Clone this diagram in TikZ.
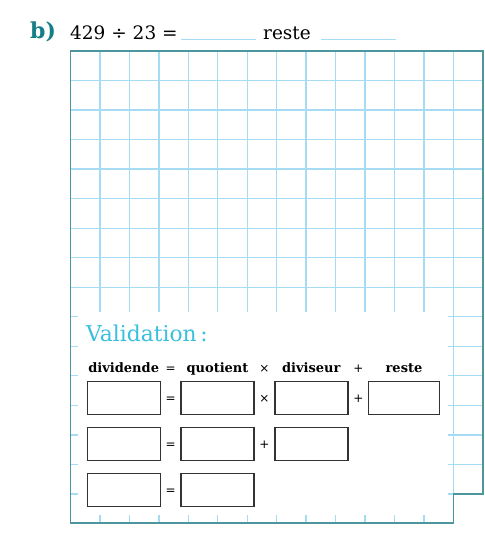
\documentclass[tikz,border=0pt]{standalone}
\usepackage{fontspec}
\setmainfont{DejaVu Serif}
\newfontfamily\opfont{DejaVu Sans}
\usetikzlibrary{positioning}
\definecolor{gridblue}{RGB}{165,220,244}
\definecolor{frameteal}{RGB}{78,150,158}
\definecolor{darkteal}{RGB}{22,126,134}
\definecolor{valcyan}{RGB}{58,192,222}
\tikzset{
  answerbox/.style={draw=black!80, line width=1.4pt, fill=white, minimum width=73pt, minimum height=33pt, inner sep=0pt},
  oplabel/.style={font=\opfont\fontsize{12}{12}\selectfont, inner sep=0pt, anchor=base},
  headlabel/.style={font=\bfseries\fontsize{13}{13}\selectfont, inner sep=0pt, anchor=base},
  gridline/.style={gridblue, line width=1.3pt}
}
\begin{document}
\begin{tikzpicture}[x=1pt,y=-1pt]
  \useasboundingbox (0,0) rectangle (485,542);
  % Title
  \node[anchor=base west, inner sep=0pt, text=darkteal, font=\bfseries\fontsize{22}{22}\selectfont] (part) at (30,38.5) {b)};
  \node[anchor=base west, inner sep=0pt, font=\fontsize{18.5}{18.5}\selectfont] (calc) at (70,39) {429 ÷ 23 =};
  \node[anchor=base west, inner sep=0pt, font=\fontsize{18.5}{18.5}\selectfont] (restword) at (263,39) {reste};
  \coordinate (quotA) at (181,39.5);
  \coordinate (quotB) at (256,39.5);
  \coordinate (restA) at (321,39.5);
  \coordinate (restB) at (396,39.5);
  \draw[gridblue, line width=1.1pt] (quotA) -- (quotB);
  \draw[gridblue, line width=1.1pt] (restA) -- (restB);
  %Grid
  \foreach \i in {1,...,12}
    \draw[gridline] (70.5+29.45*\i,51) -- (70.5+29.45*\i,523);
  \draw[gridline] (453.6,51) -- (453.6,494);
  \foreach \j in {1,...,15}
    \draw[gridline] (70.5,51+29.53*\j) -- (483,51+29.53*\j);
  %Validation panel
  \fill[white] (78,312) rectangle (448,515);
  %Frame
  \draw[frameteal, line width=1.3pt] (70.5,51) -- (483,51) -- (483,494) -- (453.6,494) -- (453.6,523) -- (70.5,523) -- cycle;
  \node[anchor=base west, inner sep=0pt, text=valcyan, font=\fontsize{21.8}{21.8}\selectfont] (valid) at (86,341) {Validation\,:};
  %Headers
  \node[headlabel] (hdiv) at (123.7,372.7) {dividende};
  \node[oplabel] (heq) at (170.7,372.7) {=};
  \node[headlabel] (hquot) at (217.5,372.7) {quotient};
  \node[oplabel] (htimes) at (264.3,372.7) {×};
  \node[headlabel] (hdvs) at (311.3,372.7) {diviseur};
  \node[oplabel] (hplus) at (358.3,372.7) {+};
  \node[headlabel] (hrest) at (404,372.7) {reste};
  %Row 1
  \node[answerbox] (a1) at (123.7,398) {};
  \node[oplabel] (e1) at (170.7,402.5) {=};
  \node[answerbox] (b1) at (217.5,398) {};
  \node[oplabel] (t1) at (264.3,402.5) {×};
  \node[answerbox] (c1) at (311.3,398) {};
  \node[oplabel] (p1) at (358.3,402.5) {+};
  \node[answerbox, minimum width=71pt] (d1) at (404,398) {};
  %Row 2
  \node[answerbox] (a2) at (123.7,444) {};
  \node[oplabel] (e2) at (170.7,448.5) {=};
  \node[answerbox] (b2) at (217.5,444) {};
  \node[oplabel] (p2) at (264.3,448.5) {+};
  \node[answerbox] (c2) at (311.3,444) {};
  %Row 3
  \node[answerbox] (a3) at (123.7,490) {};
  \node[oplabel] (e3) at (170.7,494.5) {=};
  \node[answerbox] (b3) at (217.5,490) {};
\end{tikzpicture}
\end{document}
